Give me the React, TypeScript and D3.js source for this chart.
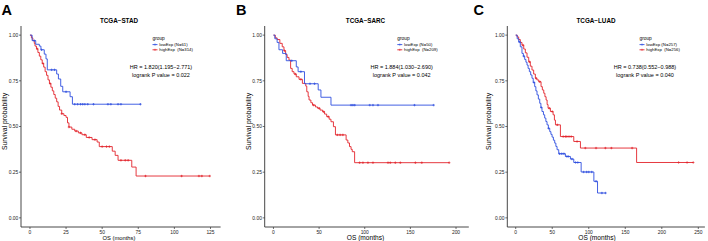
import React from "react";
import * as d3 from "d3";

// ---------- Data ----------
const panelLetters = ["A", "B", "C"];
const panelTitles = ["TCGA\u2212STAD", "TCGA\u2212SARC", "TCGA\u2212LUAD"];
const yTickValues = [0, 0.25, 0.5, 0.75, 1.0];
const xTicksA = [0, 25, 50, 75, 100, 125];
const xTicksB = [0, 50, 100, 150, 200];
const xTicksC = [0, 50, 100, 150, 200, 250];
const lowLabels = ["lowExp (N=61)", "lowExp (N=50)", "lowExp (N=257)"];
const highLabels = ["highExp  (N=314)", "highExp  (N=209)", "highExp  (N=256)"];
const hrTexts = ["HR = 1.820(1.195\u22122.771)", "HR = 1.884(1.030\u22122.690)", "HR = 0.738(0.552\u22120.988)"];
const pTexts = ["logrank P value = 0.022", "logrank P value = 0.042", "logrank P value = 0.040"];

// Panel A (STAD)
const aLowTimes = [1.5, 4, 6.5, 7.6, 9.9, 11.1, 12, 18.5, 19.7, 21.3, 22.7, 27.8, 29.4];
const aLowSurv = [0.97, 0.95, 0.94, 0.92, 0.896, 0.87, 0.81, 0.787, 0.76, 0.72, 0.69, 0.663, 0.622];
const aLowEnd = 76.5;
const aLowCensor = [3, 8, 15, 17, 25, 31, 33, 35, 36.5, 38, 40, 44, 54, 56, 61, 63, 76.5];
const aHighTimes = [1, 2, 3, 3.5, 4.5, 5.5, 6.5, 7.5, 8.5, 9.5, 10.5, 11.5, 12.5, 13.5, 14.5, 15.5, 16.5, 17.5, 18.5, 19.5, 20.5, 22, 23.5, 25, 26, 27, 29, 31, 33.5, 36, 39, 43, 46.5, 48, 57, 59, 61, 70.5, 73.5];
const aHighSurv = [0.985, 0.97, 0.955, 0.94, 0.925, 0.905, 0.885, 0.865, 0.845, 0.825, 0.8, 0.78, 0.755, 0.735, 0.715, 0.695, 0.675, 0.655, 0.635, 0.61, 0.59, 0.57, 0.56, 0.55, 0.52, 0.497, 0.485, 0.475, 0.465, 0.455, 0.44, 0.428, 0.415, 0.39, 0.365, 0.342, 0.315, 0.278, 0.229];
const aHighEnd = 124.5;
const aHighCensor = [5, 9, 14, 22, 27, 32, 35, 38, 41, 45, 50, 53, 55, 63, 66, 68, 80, 105, 117, 119, 124.5];

// Panel B (SARC)
const bLowTimes = [1.5, 4, 6, 10, 14, 25, 27, 34, 49, 52, 63];
const bLowSurv = [0.98, 0.96, 0.92, 0.9, 0.86, 0.826, 0.8, 0.734, 0.7, 0.66, 0.617];
const bLowEnd = 175.5;
const bLowCensor = [20, 30, 40, 45, 85, 87, 89, 105.5, 109, 114.5, 154.5, 175.5];
const bHighTimes = [2, 4, 7, 9.6, 11.5, 13.3, 15, 17, 18.8, 20.5, 22.5, 25, 28, 31.7, 35.4, 36.5, 38, 39, 41, 42.8, 46, 48.3, 51, 53.8, 56, 58.3, 61, 63, 65.7, 67.9, 79.6, 81.5, 83.3, 85, 86.3, 88.9];
const bHighSurv = [0.985, 0.976, 0.955, 0.936, 0.915, 0.894, 0.878, 0.863, 0.818, 0.8, 0.787, 0.772, 0.758, 0.736, 0.721, 0.69, 0.665, 0.645, 0.63, 0.617, 0.607, 0.6, 0.59, 0.581, 0.568, 0.554, 0.54, 0.526, 0.499, 0.454, 0.426, 0.41, 0.39, 0.375, 0.362, 0.302];
const bHighEnd = 192.5;
const bHighCensor = [12, 24, 30, 44, 50, 55, 60, 70, 73, 76, 94.4, 98, 103.5, 109, 125.5, 128, 133.5, 139, 155.5, 162.5, 192.5];

// Panel C (LUAD)
const cLowTimes = [2, 4.1, 6.3, 8.6, 10.5, 12.3, 14, 15.5, 17, 18.7, 20.5, 22.3, 24, 26, 27.6, 29.2, 31, 32.9, 34.5, 36, 38, 39.7, 41.3, 42.9, 44.7, 46.6, 48.2, 49.8, 51.6, 53.4, 55, 56.6, 58.9, 68, 74.9, 79.5, 89.6, 107, 112];
const cLowSurv = [0.98, 0.963, 0.936, 0.9, 0.885, 0.867, 0.852, 0.836, 0.818, 0.8, 0.782, 0.764, 0.741, 0.718, 0.695, 0.673, 0.65, 0.627, 0.604, 0.582, 0.564, 0.546, 0.527, 0.509, 0.49, 0.472, 0.457, 0.442, 0.425, 0.409, 0.391, 0.373, 0.351, 0.336, 0.322, 0.303, 0.251, 0.2, 0.136];
const cLowEnd = 123;
const cLowCensor = [5, 11, 25, 35, 45, 60, 63, 66, 70, 72, 77, 82, 85, 93, 97, 100, 104, 110, 118, 123];
const cHighTimes = [2, 4.1, 6.3, 8.6, 11, 13.2, 15.5, 17.8, 20, 22.3, 24.6, 26.9, 29, 31.5, 34.7, 36.5, 38.4, 40, 41.6, 43, 44.3, 47.5, 51.2, 53, 54.4, 61.2, 79.5, 88.6, 165.5];
const cHighSurv = [0.99, 0.976, 0.96, 0.945, 0.924, 0.903, 0.879, 0.854, 0.83, 0.809, 0.787, 0.764, 0.755, 0.745, 0.718, 0.7, 0.682, 0.663, 0.645, 0.62, 0.6, 0.582, 0.564, 0.535, 0.509, 0.445, 0.418, 0.382, 0.303];
const cHighEnd = 243;
const cHighCensor = [10, 19, 28, 33, 46, 50, 57, 65, 68, 70, 73, 76, 84, 95.3, 110, 122.8, 131, 159.4, 223, 234.6, 243];

// ---------- Styling / layout ----------
const FONT = "'Liberation Sans', Arial, Helvetica, sans-serif";
const BLUE = "#2f4fe0";
const RED = "#e3242b";
const AXIS = "#333333";

type Curve = { times: number[]; surv: number[]; end: number; censor: number[] };
type Panel = {
  letter: string; letterX: number;
  title: string; titleX: number;
  xDomain: [number, number]; xRange: [number, number];
  xTicks: number[];
  yTitleX: number; xTitleX: number; xTitleSize: number;
  legendX: number; hrX: number;
  low: Curve; high: Curve;
  lowLabel: string; highLabel: string; hr: string; p: string;
};

const panels: Panel[] = [
  {
    letter: panelLetters[0], letterX: 1.5, title: panelTitles[0], titleX: 119,
    xDomain: [-6.2, 132], xRange: [21, 220.6], xTicks: xTicksA,
    yTitleX: 6.5, xTitleX: 119, xTitleSize: 5.8, legendX: 152.5, hrX: 161,
    low: { times: aLowTimes, surv: aLowSurv, end: aLowEnd, censor: aLowCensor },
    high: { times: aHighTimes, surv: aHighSurv, end: aHighEnd, censor: aHighCensor },
    lowLabel: lowLabels[0], highLabel: highLabels[0], hr: hrTexts[0], p: pTexts[0],
  },
  {
    letter: panelLetters[1], letterX: 236, title: panelTitles[1], titleX: 365.5,
    xDomain: [-9.6, 214], xRange: [264.7, 468.8], xTicks: xTicksB,
    yTitleX: 250.5, xTitleX: 365.5, xTitleSize: 6.6, legendX: 397.3, hrX: 401.7,
    low: { times: bLowTimes, surv: bLowSurv, end: bLowEnd, censor: bLowCensor },
    high: { times: bHighTimes, surv: bHighSurv, end: bHighEnd, censor: bHighCensor },
    lowLabel: lowLabels[1], highLabel: highLabels[1], hr: hrTexts[1], p: pTexts[1],
  },
  {
    letter: panelLetters[2], letterX: 473.5, title: panelTitles[2], titleX: 596,
    xDomain: [-11.5, 259], xRange: [507.3, 704.9], xTicks: xTicksC,
    yTitleX: 490.5, xTitleX: 597, xTitleSize: 6.6, legendX: 639.5, hrX: 645,
    low: { times: cLowTimes, surv: cLowSurv, end: cLowEnd, censor: cLowCensor },
    high: { times: cHighTimes, surv: cHighSurv, end: cHighEnd, censor: cHighCensor },
    lowLabel: lowLabels[2], highLabel: highLabels[2], hr: hrTexts[2], p: pTexts[2],
  },
];

const y = d3.scaleLinear().domain([-0.05, 1.05]).range([227, 26]);

function survAt(c: Curve, t: number): number {
  let s = 1;
  for (let i = 0; i < c.times.length; i++) if (c.times[i] <= t) s = c.surv[i];
  return s;
}

function KMCurve({ c, x, color }: { c: Curve; x: d3.ScaleLinear<number, number>; color: string }) {
  const pts: [number, number][] = [[0, 1], ...c.times.map((t, i) => [t, c.surv[i]] as [number, number]), [c.end, c.surv[c.surv.length - 1]]];
  const line = d3.line<[number, number]>().x((d) => x(d[0])).y((d) => y(d[1])).curve(d3.curveStepAfter);
  return (
    <g>
      <path d={line(pts) || ""} fill="none" stroke={color} strokeWidth={0.9} />
      {c.censor.map((t, i) => {
        const cx = x(t), cy = y(survAt(c, t));
        return (
          <g key={i} stroke={color} strokeWidth={0.7}>
            <line x1={cx - 1.2} x2={cx + 1.2} y1={cy} y2={cy} />
            <line x1={cx} x2={cx} y1={cy - 1.2} y2={cy + 1.2} />
          </g>
        );
      })}
    </g>
  );
}

function PanelView({ p }: { p: Panel }) {
  const x = d3.scaleLinear().domain(p.xDomain).range(p.xRange);
  const left = p.xRange[0], right = p.xRange[1];
  const top = y.range()[1], bottom = y.range()[0];
  const yCenter = (top + bottom) / 2 - 5;
  const lx = p.legendX;
  return (
    <g fontFamily={FONT}>
      <text x={p.letterX} y={15} fontSize={14.5} fontWeight="bold" fill="#000">{p.letter}</text>
      <text x={p.titleX} y={22.5} fontSize={6.3} fontWeight="bold" textAnchor="middle" fill="#000">{p.title}</text>
      {/* axes */}
      <line x1={left} x2={left} y1={top} y2={bottom} stroke={AXIS} strokeWidth={0.9} />
      <line x1={left} x2={right} y1={bottom} y2={bottom} stroke={AXIS} strokeWidth={0.9} />
      {yTickValues.map((v) => (
        <g key={v}>
          <line x1={left - 2} x2={left} y1={y(v)} y2={y(v)} stroke={AXIS} strokeWidth={0.7} />
          <text x={left - 2.8} y={y(v) + 1.7} fontSize={4.9} textAnchor="end" fill="#222">{d3.format(".2f")(v)}</text>
        </g>
      ))}
      {p.xTicks.map((v) => (
        <g key={v}>
          <line x1={x(v)} x2={x(v)} y1={bottom} y2={bottom + 2} stroke={AXIS} strokeWidth={0.7} />
          <text x={x(v)} y={bottom + 7} fontSize={4.9} textAnchor="middle" fill="#222">{v}</text>
        </g>
      ))}
      <text x={p.xTitleX} y={239.5} fontSize={p.xTitleSize} textAnchor="middle" fill="#000">OS (months)</text>
      <text transform={`translate(${p.yTitleX},${yCenter}) rotate(-90)`} fontSize={6.8} textAnchor="middle" fill="#000">Survival probability</text>
      {/* curves */}
      <KMCurve c={p.high} x={x} color={RED} />
      <KMCurve c={p.low} x={x} color={BLUE} />
      {/* legend */}
      <text x={lx} y={39.8} fontSize={4.8} fill="#000">group</text>
      {[{ lab: p.lowLabel, col: BLUE, yy: 44.6 }, { lab: p.highLabel, col: RED, yy: 49.8 }].map((it) => (
        <g key={it.lab}>
          <line x1={lx} x2={lx + 5} y1={it.yy} y2={it.yy} stroke={it.col} strokeWidth={0.9} />
          <line x1={lx + 2.5} x2={lx + 2.5} y1={it.yy - 1} y2={it.yy + 1} stroke={it.col} strokeWidth={0.7} />
          <text x={lx + 6.8} y={it.yy + 1.5} fontSize={4.3} fill="#000" style={{ whiteSpace: "pre" }}>{it.lab}</text>
        </g>
      ))}
      <text x={p.hrX} y={68.8} fontSize={5.5} textAnchor="middle" fill="#000">{p.hr}</text>
      <text x={p.hrX} y={76.8} fontSize={5.5} textAnchor="middle" fill="#000">{p.p}</text>
    </g>
  );
}

export default function App() {
  return (
    <svg width={708} height={241} viewBox="0 0 708 241" style={{ position: "absolute", left: 0, top: 0, background: "#fff" }}>
      <rect width={708} height={241} fill="#fff" />
      {panels.map((p) => (
        <PanelView key={p.letter} p={p} />
      ))}
    </svg>
  );
}
